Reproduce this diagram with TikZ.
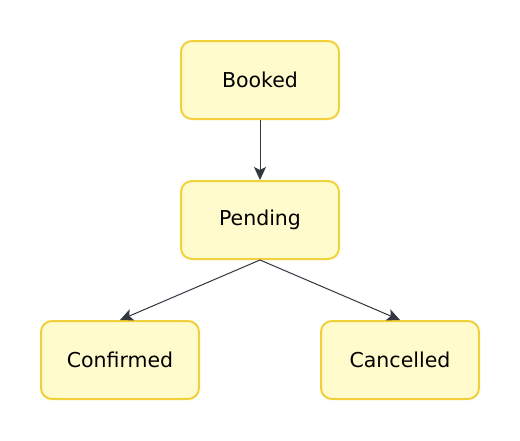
\documentclass[tikz,border=0pt]{standalone}
\usepackage{fontspec}
\setmainfont{DejaVu Sans}
\usetikzlibrary{arrows.meta}
\definecolor{boxfill}{HTML}{FFFBCC}
\definecolor{boxline}{HTML}{F2D03A}
\definecolor{edgecol}{HTML}{333740}
\tikzset{
  state/.style={draw=boxline, fill=boxfill, line width=2pt, rounded corners=11pt,
    minimum width=158pt, minimum height=78pt, inner sep=0pt, font=\fontsize{20.5}{24}\selectfont},
  flow/.style={draw=edgecol, line width=1pt, -{Stealth[length=13pt,width=12pt,inset=3pt]}}
}
\begin{document}
\begin{tikzpicture}[x=1pt,y=-1pt]
\useasboundingbox (0,0) rectangle (520,440);
\node[state] (booked) at (260,80) {Booked};
\node[state] (pending) at (260,220) {Pending};
\node[state] (confirmed) at (120,360) {Confirmed};
\node[state] (cancelled) at (400,360) {Cancelled};
\draw[flow] (booked.south) -- (pending.north);
\draw[flow] (pending.south) -- (confirmed.north);
\draw[flow] (pending.south) -- (cancelled.north);
\end{tikzpicture}
\end{document}
